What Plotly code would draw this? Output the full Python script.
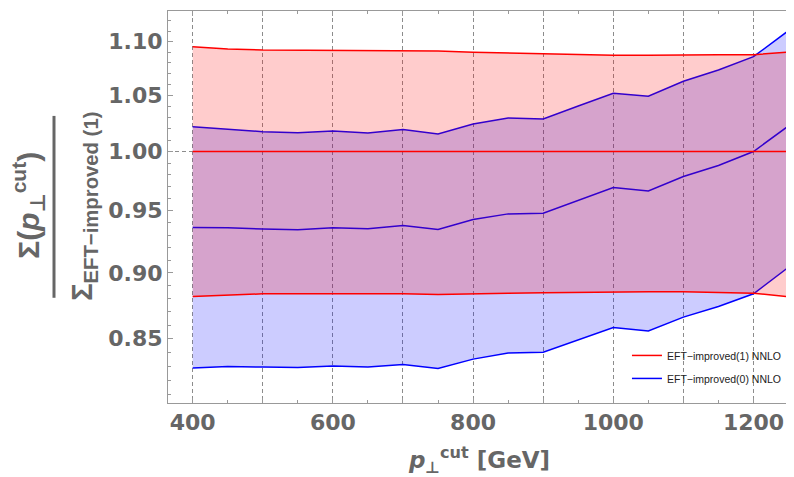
import math
import plotly.graph_objects as go

# ---------------- data ----------------
pt_cut = [400, 450, 500, 550, 600, 650, 700, 750, 800, 850, 900, 950,
          1000, 1050, 1100, 1150, 1200, 1250]

# EFT-improved(1) NNLO (normalisation): central, lower, upper
red_mid = [1.0] * 18
red_lower = [0.8818, 0.8828, 0.8838, 0.8838, 0.8838, 0.8838, 0.8838, 0.8832, 0.8840,
             0.8843, 0.8846, 0.8850, 0.8854, 0.8854, 0.8854, 0.8848, 0.8843, 0.8816]
red_upper = [1.0953, 1.0931, 1.0921, 1.0918, 1.0914, 1.0911, 1.0908, 1.0911, 1.0899,
             1.0893, 1.0881, 1.0877, 1.0871, 1.0871, 1.0877, 1.0877, 1.0877, 1.0901]

# EFT-improved(0) NNLO: central, lower, upper
blue_mid = [0.9361, 0.9359, 0.9349, 0.9343, 0.9359, 0.9351, 0.9378, 0.9345, 0.9427,
            0.9473, 0.9478, 0.9585, 0.9692, 0.9664, 0.9785, 0.9879, 1.0000, 1.0225]
blue_lower = [0.8287, 0.8297, 0.8294, 0.8291, 0.8301, 0.8294, 0.8313, 0.8284, 0.8351,
              0.8395, 0.8401, 0.8492, 0.8583, 0.8558, 0.8661, 0.8741, 0.8838, 0.9045]
blue_upper = [1.0218, 1.0198, 1.0174, 1.0165, 1.0180, 1.0163, 1.0192, 1.0154, 1.0242,
              1.0296, 1.0287, 1.0403, 1.0519, 1.0491, 1.0629, 1.0733, 1.0858, 1.1106]

y_tick_vals = [0.85, 0.90, 0.95, 1.00, 1.05, 1.10]
y_tick_text = ["0.85", "0.90", "0.95", "1.00", "1.05", "1.10"]
y_minor_vals = [round(0.81 + 0.01 * i, 2) for i in range(32)]
x_tick_vals = [400, 500, 600, 700, 800, 900, 1000, 1100, 1200]
x_tick_text = ["400", "", "600", "", "800", "", "1000", "", "1200"]

x_range = [364.8, 1253.5]
y_range = [0.8039, 1.1297]

label_name_1 = "EFT\u2212improved(1) NNLO"
label_name_0 = "EFT\u2212improved(0) NNLO"

RED = "#ff0000"
BLUE = "#0000ff"
GREY = "#666666"
FONT = "Liberation Sans, Arial, sans-serif"
WIDE = "DejaVu Sans, Liberation Sans, sans-serif"
PERP = '<span style="font-family:DejaVu Sans">\u22a5</span>'

fig = go.Figure()

# blue band
fig.add_trace(go.Scatter(x=pt_cut, y=blue_lower, mode="lines", line=dict(width=0),
                         showlegend=False, hoverinfo="skip"))
fig.add_trace(go.Scatter(x=pt_cut, y=blue_upper, mode="lines", line=dict(width=0),
                         fill="tonexty", fillcolor="rgba(0,0,255,0.2)",
                         showlegend=False, hoverinfo="skip"))
# blue lines
for ys in [blue_upper, blue_mid, blue_lower]:
    fig.add_trace(go.Scatter(x=pt_cut, y=ys, mode="lines",
                             line=dict(color=BLUE, width=1.5), showlegend=False))
# red band
fig.add_trace(go.Scatter(x=pt_cut, y=red_lower, mode="lines", line=dict(width=0),
                         showlegend=False, hoverinfo="skip"))
fig.add_trace(go.Scatter(x=pt_cut, y=red_upper, mode="lines", line=dict(width=0),
                         fill="tonexty", fillcolor="rgba(255,0,0,0.2)",
                         showlegend=False, hoverinfo="skip"))
# red lines
for ys in [red_upper, red_mid, red_lower]:
    fig.add_trace(go.Scatter(x=pt_cut, y=ys, mode="lines",
                             line=dict(color=RED, width=1.5), showlegend=False))

# legend entries
fig.add_trace(go.Scatter(x=[None], y=[None], mode="lines", line=dict(color=RED, width=1.5),
                         name=label_name_1, legendgroup="a"))
fig.add_trace(go.Scatter(x=[None], y=[None], mode="lines", line=dict(color=BLUE, width=1.5),
                         name=label_name_0, legendgroup="b"))
# dummy on overlay axis (for the 1.00 grid line)
fig.add_trace(go.Scatter(x=[None], y=[None], yaxis="y2", showlegend=False, hoverinfo="skip"))

ylog = [math.log10(y_range[0]), math.log10(y_range[1])]

# the page body has an 8px margin, so the figure is 8px smaller on each axis
fig.update_layout(
    width=786, height=469,
    margin=dict(l=160, r=3, t=3, b=73.7),
    paper_bgcolor="white", plot_bgcolor="white",
    font=dict(family=FONT, color=GREY),
    xaxis=dict(
        range=x_range, tickmode="array", tickvals=x_tick_vals, ticktext=x_tick_text,
        ticks="inside", ticklen=5, tickcolor="#999999",
        showline=True, linecolor="#999999", linewidth=1, mirror="ticks",
        showgrid=True, gridcolor="#8c8c8c", griddash="4px,3px", gridwidth=1,
        zeroline=False,
        tickfont=dict(size=22, family=WIDE, color=GREY, weight="bold"),
        minor=dict(dtick=50, tick0=0, ticks="inside", ticklen=3, tickcolor="#999999",
                   showgrid=False),
        title=dict(text="<b><i>p</i><sub>" + PERP + "</sub><sup>cut</sup> [GeV]</b>",
                   font=dict(size=23, family=WIDE, color=GREY), standoff=19),
    ),
    yaxis=dict(
        type="log", range=ylog, tickmode="array", tickvals=y_tick_vals, ticktext=y_tick_text,
        ticks="inside", ticklen=5, tickcolor="#999999",
        showline=True, linecolor="#999999", linewidth=1, mirror=False,
        showgrid=False, zeroline=False,
        tickfont=dict(size=22, family=WIDE, color=GREY, weight="bold"),
        minor=dict(tickmode="array", tickvals=y_minor_vals, ticks="inside", ticklen=3,
                   tickcolor="#999999", showgrid=False),
    ),
    yaxis2=dict(
        type="log", range=ylog, overlaying="y", side="left", tickmode="array",
        tickvals=[1.0], showticklabels=False, ticks="", showline=False,
        showgrid=True, gridcolor="#8c8c8c", griddash="4px,3px", gridwidth=1, zeroline=False,
    ),
    legend=dict(
        x=0.7367, y=0.092, xanchor="left", yanchor="middle",
        bgcolor="rgba(0,0,0,0)", font=dict(size=10.5, family=FONT, color="#222222"),
        traceorder="grouped", tracegroupgap=4, itemwidth=30,
    ),
    showlegend=True,
)

# y-axis title as a fraction: numerator, bar, denominator
fig.add_annotation(
    text="<b>\u03a3(<i>p</i><sub>" + PERP + "</sub><sup>cut</sup>)</b>",
    xref="paper", yref="paper", x=(29 - 168) / 623, y=(403.3 - 206) / 392.3,
    textangle=-90, showarrow=False, font=dict(size=30, family=FONT, color=GREY),
    xanchor="center", yanchor="middle",
)
fig.add_annotation(
    text="<b>\u03a3<sub>EFT\u2212improved (1)</sub></b>",
    xref="paper", yref="paper", x=(84 - 168) / 623, y=(403.3 - 207) / 392.3,
    textangle=-90, showarrow=False, font=dict(size=29, family=FONT, color=GREY),
    xanchor="center", yanchor="middle",
)
fig.add_shape(
    type="line", xref="paper", yref="paper",
    x0=(54 - 168) / 623, x1=(54 - 168) / 623,
    y0=(403.3 - 298) / 392.3, y1=(403.3 - 116) / 392.3,
    line=dict(color=GREY, width=3),
)

fig.write_html("out.html")
